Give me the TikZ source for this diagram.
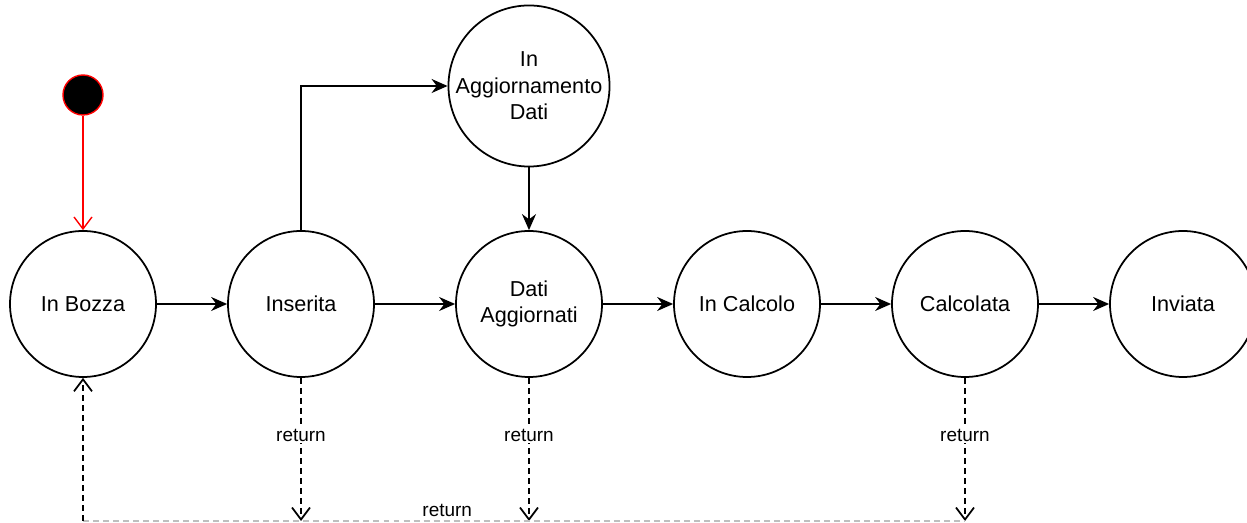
\documentclass[tikz,border=0pt]{standalone}
\usepackage{fontspec}
\setmainfont{Liberation Sans}
\usetikzlibrary{arrows.meta,positioning}
\tikzstyle{status} = [circle, draw=black, line width=1pt, minimum size=2.92cm, inner sep=0pt, align=center, font=\fontsize{12.3}{15}\selectfont]
\tikzstyle{startdot} = [circle, draw=red, fill=black, line width=0.8pt, minimum size=0.8cm, inner sep=0pt]
\tikzstyle{arrow} = [line width=1pt, -{Stealth[length=3.2mm,width=2.8mm]}]
\tikzstyle{ret} = [line width=1pt, dash pattern=on 3.4pt off 2.3pt, -{Straight Barb[length=2.4mm,width=3.6mm]}]
\tikzstyle{lbl} = [fill=white, text=black, inner sep=1pt, font=\fontsize{10.8}{13}\selectfont]

\begin{document}
\begin{tikzpicture}[node distance = 4.36cm]
\useasboundingbox (0,0) rectangle (24.94,-10.46);

\node (bozza) [status] at (1.66,-6.08) {In Bozza};
\node (start) [startdot, above of=bozza, node distance=4.18cm] {};
\node (inserita) [status, right of=bozza] {Inserita};
\node (dati) [status, right of=inserita, xshift=0.2cm] {Dati\\Aggiornati};
\node (aggiorn) [status, above of=dati] {In\\Aggiornamento\\Dati};
\node (calcolo) [status, right of=dati] {In Calcolo};
\node (calcolata) [status, right of=calcolo] {Calcolata};
\node (inviata) [status, right of=calcolata] {Inviata};

% bottom of the return paths
\coordinate (r0) at (bozza |- 0,-10.42);
\coordinate (r1) at (inserita |- 0,-10.42);
\coordinate (r2) at (dati |- 0,-10.42);
\coordinate (r3) at (calcolata |- 0,-10.42);

\draw [line width=0.8pt, red, -{Straight Barb[length=2.4mm,width=3.6mm]}] (start) -- (bozza);
\draw [arrow] (bozza) -- (inserita);
\draw [arrow] (inserita) -- (dati);
\draw [arrow] (dati) -- (calcolo);
\draw [arrow] (calcolo) -- (calcolata);
\draw [arrow] (calcolata) -- (inviata);
\draw [arrow] (inserita.north) |- (aggiorn.west);
\draw [arrow] (aggiorn) -- (dati);

\draw [ret] (inserita) -- node[lbl, pos=0.4]{return} (r1);
\draw [ret] (dati) -- node[lbl, pos=0.4]{return} (r2);
\draw [ret] (calcolata) -- node[lbl, pos=0.4]{return} (r3);
\draw [gray!50, line width=0.6pt, dash pattern=on 3.4pt off 2.3pt] (r0) -- node[pos=0.413, above=1pt, lbl, fill=none]{return} (r3);
\draw [ret] (r0) -- (bozza);

\end{tikzpicture}
\end{document}
